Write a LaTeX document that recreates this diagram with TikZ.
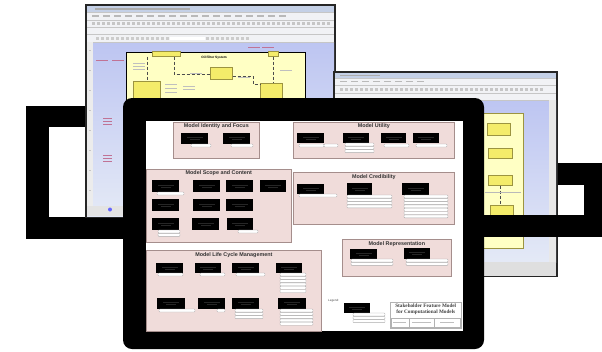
\documentclass[tikz,border=0pt]{standalone}
\usepackage{fontspec}
\setmainfont{Liberation Sans}
\newfontfamily\blockfont{Liberation Serif}
\usetikzlibrary{positioning}

\definecolor{panelpink}{HTML}{F0DCDA}
\definecolor{panelline}{HTML}{A58E8C}
\definecolor{winblue}{HTML}{D2DBF0}
\definecolor{winbar}{HTML}{C4D0E6}
\definecolor{chrome}{HTML}{F1F2F5}
\definecolor{diagyellow}{HTML}{FFFFC4}
\definecolor{boxyellow}{HTML}{F4EC6A}
\definecolor{boxedge}{HTML}{9C9440}
\definecolor{labelpurple}{HTML}{B0507A}

\begin{document}
\begin{tikzpicture}[x=1pt, y=-1pt,
    panel/.style={draw=panelline, fill=panelpink, line width=0.7pt, inner sep=0pt, anchor=north west},
    ttl/.style={font=\fontsize{5.4}{6}\selectfont\bfseries, text=black!80, inner sep=0pt},
    feat/.style={fill=black, inner sep=0pt, anchor=north west,
        path picture={
            \fill[gray!30!black] ([xshift=-8pt,yshift=1.5pt]path picture bounding box.center) rectangle ([xshift=8pt,yshift=0.7pt]path picture bounding box.center);
            \fill[gray!30!black] ([xshift=-5pt,yshift=-0.5pt]path picture bounding box.center) rectangle ([xshift=5pt,yshift=-1.3pt]path picture bounding box.center);
        }},
    sub/.style={draw=gray!65, fill=white, line width=0.4pt, rounded corners=0.8pt},
    win/.style={draw=black!85, line width=1.2pt},
    ybox/.style={draw=boxedge, fill=boxyellow, line width=0.6pt, inner sep=0pt, anchor=north west},
    link/.style={densely dashed, gray!60!black, line width=0.4pt},
    smudge/.style={fill=gray!55}
]
\useasboundingbox (0,0) rectangle (602,351);

% frames behind the windows
\fill[black] (26,106) rectangle (140,239);
\fill[white] (49,127) rectangle (100,217);
\fill[black] (470,163) rectangle (602,237);
\fill[white] (558,185) rectangle (584,215);

% left window
\draw[win, fill=winblue] (86,5) rectangle (335,217);
\shade[top color=winblue!90!blue, bottom color=winblue!60!white] (87,42) rectangle (334,216);
\fill[chrome] (87,6) rectangle (334,42);
\fill[winbar] (87,6) rectangle (334,11.5);
\fill[gray!65] (95,8) rectangle (190,9.6);
\foreach \yy in {12,20,27,34,42}
    \draw[gray!45, line width=0.3pt] (87,\yy) -- (334,\yy);
\foreach \xx in {92,103,...,280}
    \fill[smudge] (\xx,15.3) rectangle ++(7,1.4);
\foreach \xx in {92,97,...,330}
    \fill[gray!45] (\xx,22.3) rectangle ++(3,3);
\foreach \xx in {96,101,...,250}
    \fill[gray!40] (\xx,37) rectangle ++(3,2.5);
\fill[white] (170,36.5) rectangle (205,40);
\fill[gray!15] (87,42) rectangle (93,216);
\foreach \yy in {50,70,...,190}
    \fill[gray!45] (89,\yy) rectangle ++(2,1.2);
\fill[gray!22] (87,206) rectangle (334,216);
\fill[blue!60] (110,209.5) circle (2);
\foreach \yy in {118,155}
    \foreach \k in {0,1,2}
        \fill[labelpurple!80] (103,{\yy+3*\k}) rectangle ++(9,1);
\foreach \xx/\yy in {96/60,112/60,248/47,262/47}
    \fill[labelpurple!80] (\xx,\yy) rectangle ++(12,1.1);

% oil filter diagram
\draw[black, line width=0.8pt, fill=diagyellow] (126,52) rectangle (305,104);
\node[font=\fontsize{3.2}{3.5}\selectfont\bfseries, inner sep=0pt] (oil) at (214,58) {Oil Filter System};
\node[ybox, minimum width=28, minimum height=5] (t1) at (152,51) {};
\node[ybox, minimum width=10, minimum height=5] (t2) at (268,51) {};
\node[ybox, minimum width=22, minimum height=12] (ya) at (210,67) {};
\node[ybox, minimum width=27, minimum height=17] (yb) at (133,81) {};
\node[ybox, minimum width=22, minimum height=15] (yc) at (260,83) {};
\coordinate (k1) at (174,74);
\draw[link] (t1.south -| k1) -- (k1) -- (ya.west |- k1);
\draw[link] (t1.south -| yb.north) -- (yb.north);
\draw[link] (t2.south) -- (yc.north -| t2.south);
\draw[link] (ya.east |- 76,76) -| (253,84) -- (yc.west |- 84,84);
\foreach \xx/\yy in {133/63,133/66,133/69,190/73,238/77,280/70,165/84,165/88,165/92,183/86,183/89}
    \fill[gray!50] (\xx,\yy) rectangle ++(12,0.9);

% right window
\draw[win, fill=winblue] (334,72) rectangle (557,276);
\shade[top color=winblue!90!blue, bottom color=winblue!60!white] (335,100) rectangle (556,262);
\fill[chrome] (335,73) rectangle (556,100);
\fill[winbar] (335,73) rectangle (556,78);
\fill[gray!65] (340,74.8) rectangle (380,76.4);
\foreach \yy in {78,85,93,100}
    \draw[gray!45, line width=0.3pt] (335,\yy) -- (556,\yy);
\foreach \xx in {340,351,...,420}
    \fill[smudge] (\xx,81) rectangle ++(7,1.3);
\foreach \xx in {340,345,...,540}
    \fill[gray!45] (\xx,88) rectangle ++(3,3);
\fill[gray!18] (549,100) rectangle (556,262);
\fill[gray!25] (335,262) rectangle (556,275.5);
\draw[boxedge, line width=0.6pt, fill=diagyellow] (470,113) rectangle (523,248);
\node[ybox, minimum width=23, minimum height=12] (ra) at (487,123) {};
\node[ybox, minimum width=24, minimum height=10] (rb) at (488,148) {};
\node[ybox, minimum width=24, minimum height=10] (rc) at (488,175) {};
\node[ybox, minimum width=23, minimum height=10] (rd) at (490,205) {};
\draw[link] (rc.south) -- (rd.north -| rc.south);
\fill[gray!55] (485,191.5) rectangle (521,192.5);

% right frame, lower bar
\fill[black] (470,215) rectangle (602,237);

% tablet
\fill[black, rounded corners=9pt] (123,98) rectangle (484,349);
\fill[white] (146,121) rectangle (463,331);
\fill[black] (146,218) rectangle (150,230);

% panels
\node[panel, minimum width=86, minimum height=36] (idf) at (173,122) {};
\node[ttl, below=1.8pt of idf.north] (idft) {Model Identity and Focus};
\node[panel, minimum width=161, minimum height=36] (ut) at (293,122) {};
\node[ttl, below=1.8pt of ut.north] (utt) {Model Utility};
\node[panel, minimum width=145, minimum height=73] (sc) at (146,169) {};
\node[ttl, below=1.8pt of sc.north] (sct) {Model Scope and Content};
\node[panel, minimum width=161, minimum height=52] (cr) at (293,172) {};
\node[ttl, below=2.2pt of cr.north] (crt) {Model Credibility};
\node[panel, minimum width=109, minimum height=37] (rp) at (342,239) {};
\node[ttl, below=2pt of rp.north] (rpt) {Model Representation};
\node[panel, minimum width=175, minimum height=81] (lc) at (146,250) {};
\node[ttl, below=2.2pt of lc.north] (lct) {Model Life Cycle Management};

% feature boxes
\foreach \x/\y/\w/\h [count=\i] in {181/133/27/11, 223/133/27/11}
    \node[feat, minimum width=\w, minimum height=\h] (idf\i) at (\x,\y) {};
\foreach \x/\y/\w/\h [count=\i] in {297/133/27/10, 343/133/26/10, 381/133/25/10, 413/133/26/10}
    \node[feat, minimum width=\w, minimum height=\h] (ut\i) at (\x,\y) {};
\foreach \x/\y/\w/\h [count=\i] in {152/180/27/12, 193/180/27/12, 226/180/27/12, 260/180/26/12,
        152/199/27/12, 193/199/27/12, 226/199/27/12,
        152/218/27/12, 192/218/27/12, 227/218/26/12}
    \node[feat, minimum width=\w, minimum height=\h] (sc\i) at (\x,\y) {};
\foreach \x/\y/\w/\h [count=\i] in {297/184/27/10, 347/183/25/12, 402/183/27/12}
    \node[feat, minimum width=\w, minimum height=\h] (cr\i) at (\x,\y) {};
\foreach \x/\y/\w/\h [count=\i] in {350/249/27/10, 404/248/26/11}
    \node[feat, minimum width=\w, minimum height=\h] (rp\i) at (\x,\y) {};
\foreach \x/\y/\w/\h [count=\i] in {156/263/27/10, 195/263/26/10, 232/263/27/10, 276/263/26/10,
        157/298/28/11, 198/298/27/11, 232/298/27/11, 278/298/28/11}
    \node[feat, minimum width=\w, minimum height=\h] (lc\i) at (\x,\y) {};
\node[feat, minimum width=26, minimum height=10] (lg) at (344,303) {};

% attribute rows
\foreach \x/\y/\w/\n in {191/144/20/1, 231/144/22/1,
        299/144/25/1, 324/144/14/1, 345/143/29/3, 384/144/25/1, 416/144/31/1,
        157/192/27/1, 158/230/22/2, 238/230/20/1,
        299/194/38/1, 347/195/45/4, 404/195/44/7,
        351/259/42/2, 406/259/42/2,
        158/273/25/1, 200/273/25/1, 236/273/29/1, 280/273/26/6,
        159/309/36/1, 217/309/8/1, 235/309/28/3, 280/309/33/5,
        353/313/32/3}
    \foreach \k in {1,...,\n}
        \draw[sub] (\x,{\y+3.3*(\k-1)}) rectangle ++(\w,3);

% legend and title block
\node[font=\fontsize{3}{3}\selectfont, text=gray!60!black, inner sep=0pt, anchor=west] (lgt) at (328,301) {Legend:};
\node[draw=gray!60, fill=white, line width=0.5pt, minimum width=71, minimum height=26, inner sep=0pt, anchor=north west] (tb) at (390,302) {};
\node[font=\blockfont\fontsize{5.2}{6}\selectfont\bfseries, text=black!75, inner sep=0pt, align=center, below=1.8pt of tb.north] (tbt) {Stakeholder Feature Model\\for Computational Models};
\draw[gray!60, line width=0.4pt] (391,318) rectangle (460,327);
\draw[gray!60, line width=0.4pt] (409,318) -- (409,327);
\draw[gray!60, line width=0.4pt] (434,318) -- (434,327);
\foreach \xx/\ww in {393/13, 412/19, 440/14}
    \fill[gray!50] (\xx,322) rectangle ++(\ww,1);
\end{tikzpicture}
\end{document}
